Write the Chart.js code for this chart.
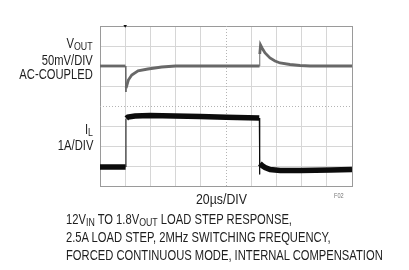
<!DOCTYPE html>
<html>
<head>
<meta charset="utf-8">
<script src="https://cdn.jsdelivr.net/npm/chart.js@4.4.0/dist/chart.umd.min.js"></script>
<style>
    body { margin: 0; background: #fff; }
    #contenedor {
        position: relative; width: 409px; height: 270px; overflow: hidden;
        font-family: "Liberation Sans", Arial, sans-serif;
        color: #1e1e1e;
    }
    #contenedor canvas { position: absolute; left: 0; top: 0; }
    /* Helvetica condensada: Liberation Sans comprimida */
    .txt { position: absolute; font-size: 14px; line-height: 14px; white-space: nowrap;
           transform: scaleX(0.8); transform-origin: left top; }
    .der { right: 316px; text-align: right; transform-origin: right top; }
    sub { font-size: 11px; line-height: 0; vertical-align: -2px; }
    #f02 { font-size: 7px; line-height: 7px; color: #777; }
</style>
</head>
<body>
<div id="contenedor">
    <canvas id="grafico" width="409" height="270"></canvas>
    <div class="txt der" style="top:36px">V<sub>OUT</sub></div>
    <div class="txt der" style="top:53px">50mV/DIV</div>
    <div class="txt der" style="top:67px">AC-COUPLED</div>
    <div class="txt der" style="top:122px">I<sub>L</sub></div>
    <div class="txt der" style="top:138px">1A/DIV</div>
    <div class="txt" style="left:196px; top:192px; transform: scaleX(0.88)">20µs/DIV</div>
    <div class="txt" id="f02" style="left:334px; top:192px">F02</div>
    <div class="txt" style="left:66px; top:212px">12V<sub>IN</sub> TO 1.8V<sub>OUT</sub> LOAD STEP RESPONSE,</div>
    <div class="txt" style="left:66px; top:230px">2.5A LOAD STEP, 2MHz SWITCHING FREQUENCY,</div>
    <div class="txt" style="left:66px; top:248px">FORCED CONTINUOUS MODE, INTERNAL COMPENSATION</div>
</div>
<script>
// Datos (tiempo en us, 20us/div)
const tiempoVout = [0, 20.2, 20.5, 20.7, 22.5, 25.2, 30.2, 38, 49, 60, 126.6, 126.8, 127.4, 128.6, 131, 134.9, 138.9, 142.9, 150.8, 158.7, 166.7, 200]
const vout = [0, 0, -65, -55, -35, -22.5, -12, -7.5, -2.5, 0, 0, 30, 52.5, 45, 32.5, 20, 12.5, 7.5, 3.75, 1.25, 0, 0]

const tiempoIL = [0, 20.3, 20.6, 20.9, 22.2, 27.8, 39.7, 59.5, 79.4, 100, 126.4, 126.6, 126.7, 126.9, 128.6, 131, 135, 143, 159, 183, 200]
const corrienteIL = [0.95, 0.95, 3.35, 3.38, 3.45, 3.5, 3.53, 3.5, 3.47, 3.44, 3.4, 3.4, 0.58, 1.12, 1.02, 0.92, 0.82, 0.78, 0.78, 0.8, 0.82]

// Escalas: 10 div horizontales, 8 verticales
const tiempoMax = 200, pasoTiempo = 20
const voutMin = -300, voutMax = 100, pasoVout = 50
const ilMin = 0, ilMax = 8
const instanteDisparo = 20

const armarPuntos = (xs, ys) => xs.map((x, i) => ({ x: x, y: ys[i] }))

// bordes verticales del trazo se dibujan finos
const anchoSegmento = (ancho) => (ctx) =>
    Math.abs(ctx.p1.parsed.x - ctx.p0.parsed.x) < 0.45 ? 1 : ancho

const colorGrilla = (ctx, centro, extremos) => {
    const v = ctx.tick.value
    if (extremos.includes(v)) return '#9a9a9a'
    if (v === centro) return 'rgba(0,0,0,0)'
    return '#d6d6d6'
}

const marcasOsciloscopio = {
    id: 'marcasOsciloscopio',
    beforeDatasetsDraw(chart) {
        const { ctx, chartArea, scales } = chart
        const xc = Math.round(scales.x.getPixelForValue(tiempoMax / 2)) + 0.5
        const yc = Math.round(scales.y.getPixelForValue((voutMin + voutMax) / 2)) + 0.5
        ctx.save()
        ctx.strokeStyle = '#b4b4b4'
        ctx.lineWidth = 1
        ctx.setLineDash([1, 2])
        ctx.beginPath()
        ctx.moveTo(xc, chartArea.top)
        ctx.lineTo(xc, chartArea.bottom)
        ctx.moveTo(chartArea.left, yc)
        ctx.lineTo(chartArea.right, yc)
        ctx.stroke()
        ctx.restore()
    },
    afterDraw(chart) {
        const { ctx, chartArea, scales } = chart
        const xd = scales.x.getPixelForValue(instanteDisparo)
        ctx.save()
        ctx.fillStyle = '#111'
        ctx.beginPath()
        ctx.moveTo(xd - 1.8, chartArea.top - 1)
        ctx.lineTo(xd + 1.8, chartArea.top - 1)
        ctx.lineTo(xd, chartArea.top + 1.8)
        ctx.closePath()
        ctx.fill()
        ctx.restore()
    }
}

const contexto = document.getElementById('grafico').getContext('2d')
const grafico = new Chart(contexto, {
    type: 'line',
    data: {
        datasets: [{
            label: 'VOUT',
            data: armarPuntos(tiempoVout, vout),
            yAxisID: 'y',
            borderColor: '#686868',
            borderWidth: 2.8,
            pointRadius: 0,
            tension: 0,
            segment: { borderWidth: anchoSegmento(2.8) }
        }, {
            label: 'IL',
            data: armarPuntos(tiempoIL, corrienteIL),
            yAxisID: 'yIL',
            borderColor: '#0c0c0c',
            borderWidth: 5.5,
            pointRadius: 0,
            tension: 0,
            segment: { borderWidth: anchoSegmento(5.5) }
        }]
    },
    options: {
        responsive: false,
        animation: false,
        layout: { padding: { left: 100, top: 26, right: 57, bottom: 84 } },
        plugins: {
            legend: { display: false },
            title: { display: false },
            tooltip: { enabled: false }
        },
        scales: {
            x: {
                type: 'linear',
                min: 0,
                max: tiempoMax,
                ticks: { display: false, stepSize: pasoTiempo },
                grid: {
                    drawTicks: false,
                    color: (ctx) => colorGrilla(ctx, tiempoMax / 2, [0, tiempoMax])
                },
                border: { display: true, color: '#9a9a9a' }
            },
            y: {
                min: voutMin,
                max: voutMax,
                ticks: { display: false, stepSize: pasoVout },
                grid: {
                    drawTicks: false,
                    color: (ctx) => colorGrilla(ctx, (voutMin + voutMax) / 2, [voutMin, voutMax])
                },
                border: { display: true, color: '#9a9a9a' }
            },
            yIL: {
                display: false,
                min: ilMin,
                max: ilMax
            }
        }
    },
    plugins: [marcasOsciloscopio]
})
</script>
</body>
</html>
